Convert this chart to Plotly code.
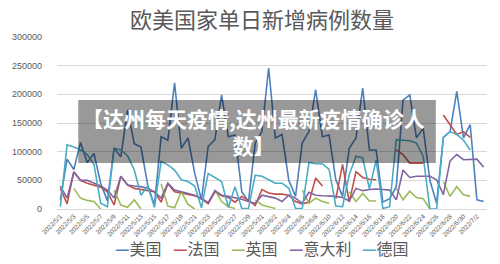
import plotly.graph_objects as go

# Categories: 2022/5/1 .. 2022/7/3
dates = ([f"2022/5/{d}" for d in range(1, 32)] +
         [f"2022/6/{d}" for d in range(1, 31)] +
         [f"2022/7/{d}" for d in range(1, 4)])

us = [16000, 87000, 69000, 116000, 81000, 97000, 45000, 14000,
      106000, 91000, 173000, 114000, 108000, 42000, 7000,
      126000, 120000, 220000, 106000, 124000, 62000, 16000,
      109000, 121000, 199000, 126000, 129000, 30000, 13000,
      115000, 135000, 246000, 124000, 130000, 50000, 22000,
      115000, 135000, 208000, 126000, 129000, 51000, 22000,
      106000, 124000, 211000, 103000, 103000, 12000, 18000,
      39000, 190000, 199000, 124000, 141000, 50000, 10000,
      125000, 135000, 205000, 124000, 147000, 16000, 13000]

france = [36000, 9000, 65000, 50000, 45000, 42000, 38000, 30000,
          7000, 57000, 42000, 36000, 34000, 33000, 30000,
          12000, 44000, 30000, 28000, 26000, 23000, 18000,
          9000, 30000, 23000, 20000, 12000, 22000, 15000,
          6000, 34000, 28000, 26000, 26000, 24000, 13000,
          9000, 12000, 54000, 40000, None, 18000, 78000,
          12000, 65000, 55000, 52000, 51000, None, None,
          103000, 95000, 80000, 80000, 80000, None, None,
          164000, 146000, 130000, 135000, 125000, None, None]

uk = [None, None, 36000, 19000, 15000, 13000, 0, None,
      33000, 7000, 3000, 16000, 0, None, None,
      44000, 5000, 2000, 30000, 8000, 0, None,
      None, 33000, 13000, 4000, 1000, None, None,
      16000, 7000, 4000, 1000, None, None, None,
      33000, 10000, 19000, 13000, 10000, None, None,
      30000, 13000, 27000, 14000, 14000, None, None,
      36000, 16000, 31000, 20000, 18000, 0, None,
      48000, 22000, 39000, 25000, 22000, None, None]

italy = [40000, 19000, 64000, 50000, 50000, 45000, 40000, 33000,
         19000, 57000, 42000, 40000, 39000, 36000, 30000,
         19000, 45000, 33000, 30000, 27000, 24000, 19000,
         11000, 32000, 24000, 22000, 20000, 17000, 13000,
         10000, 24000, 22000, 19000, 13000, 24000, 19000,
         10000, 29000, 24000, 23000, 23000, 22000, 20000,
         14000, 36000, 32000, 34000, 35000, 34000, 33000,
         16000, 68000, 55000, 57000, 57000, 57000, 51000,
         25000, 84000, 95000, 86000, 87000, 87000, 73000]

germany = [4000, 112000, 108000, 103000, 95000, 78000, 10000, 4000,
           106000, 103000, 93000, 68000, 24000, 40000, 3000,
           83000, 77000, 68000, 51000, 48000, 40000, 2000,
           62000, 55000, 48000, 3000, 39000, 1000, 1000,
           59000, 57000, 51000, 45000, 45000, 36000, 1000,
           1000, 81000, 79000, 79000, 69000, 5000, 4000,
           60000, 92000, 89000, 35000, 85000, 1000, 4000,
           121000, 120000, 119000, 115000, 92000, 0, 0,
           125000, 135000, 130000, 120000, 103000, None, None]

series_names = ["美国", "法国", "英国", "意大利", "德国"]
series_values = [us, france, uk, italy, germany]
series_colors = ["#4F81BD", "#C0504D", "#9BBB59", "#8064A2", "#4BACC6"]

y_ticks = [0, 50000, 100000, 150000, 200000, 250000, 300000]

title_text = "欧美国家单日新增病例数量"
banner_text = "<b>【达州每天疫情,达州最新疫情确诊人<br>数】</b>"

CJK = "Noto Sans CJK SC"
GREY = "#595959"

fig = go.Figure()
for name, vals, col in zip(series_names, series_values, series_colors):
    fig.add_trace(go.Scatter(
        x=dates, y=vals, name=name, mode="lines",
        line=dict(color=col, width=1.6), connectgaps=False,
    ))

# plot area in pixels: x 42..487, y 37..209
L, R, T, B = 42, 13, 37, 55
PW, PH = 500 - L - R, 264 - T - B


def px_x(px):
    return (px - L) / PW


def px_y(py):
    return (264 - B - py) / PH


fig.update_layout(
    width=500, height=264,
    margin=dict(l=L, r=R, t=T, b=B),
    paper_bgcolor="white", plot_bgcolor="white",
    title=dict(text=title_text, x=0.524, xanchor="center", y=0.924,
               yanchor="middle", xref="container", yref="container",
               font=dict(family=CJK, size=22, color=GREY)),
    showlegend=False,
    xaxis=dict(type="category", categoryorder="array", categoryarray=dates,
               range=[-0.5, len(dates) - 0.5],
               tickmode="array", tickvals=dates[::2], ticktext=dates[::2],
               tickangle=-45, tickfont=dict(family="Liberation Sans", size=6.5, color=GREY),
               showgrid=False, showline=True, linecolor="#D9D9D9", linewidth=1,
               zeroline=False, ticks=""),
    yaxis=dict(range=[0, 300000], tickmode="array", tickvals=y_ticks,
               tickformat="d", tickfont=dict(family="Liberation Sans", size=9, color=GREY),
               showgrid=True, gridcolor="#D9D9D9", gridwidth=1, zeroline=False,
               showline=False, ticks="", ticklabelstandoff=14),
)

# legend drawn below the axis: coloured dash + series name
leg_size = 16
x_cursor = 100
for name, col in zip(series_names, series_colors):
    fig.add_annotation(
        text=f"<span style='color:{col}'><b>—</b></span>{name}",
        xref="paper", yref="paper", x=px_x(x_cursor), y=px_y(248),
        xanchor="left", yanchor="middle", showarrow=False,
        font=dict(family=CJK, size=leg_size, color=GREY))
    x_cursor += leg_size * (1 + len(name)) + 12

# overlay banner on top of the chart
fig.add_shape(type="rect", xref="paper", yref="paper",
              x0=px_x(64), x1=px_x(434), y0=px_y(163), y1=px_y(100),
              fillcolor="rgba(0,0,0,0.4)", line=dict(width=0), layer="above")
fig.add_annotation(text=banner_text, xref="paper", yref="paper",
                   x=px_x(245.5), y=px_y(131.5), xanchor="center", yanchor="middle",
                   showarrow=False, align="center",
                   font=dict(family=CJK, size=21, color="white"))

fig.write_html("out.html")
